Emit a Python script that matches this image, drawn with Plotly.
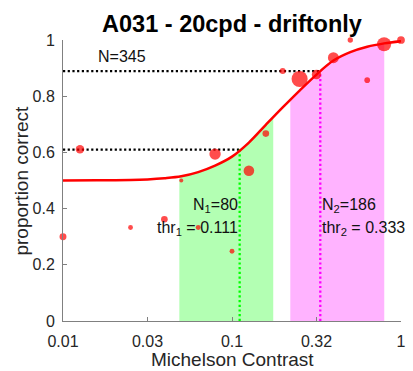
import plotly.graph_objects as go
import numpy as np

# ---- data ----
contrast = [0.01, 0.0126, 0.0251, 0.0398, 0.0501, 0.0631, 0.0794, 0.1, 0.1259, 0.1585,
            0.1995, 0.2512, 0.3162, 0.3981, 0.5012, 0.631, 0.7943, 1.0]
prop_correct = [0.30, 0.611, 0.333, 0.362, 0.50, 0.333, 0.594, 0.248, 0.535, 0.667,
                0.89, 0.861, 0.877, 0.937, 1.0, 0.857, 0.985, 1.0]
n_trials = [12, 18, 6, 11, 4, 6, 32, 6, 28, 11, 9, 65, 22, 30, 7, 8, 50, 15]

fit_x = [0.01, 0.0158, 0.0251, 0.0316, 0.0398, 0.0501, 0.0631, 0.0794, 0.1, 0.1259,
         0.1585, 0.1995, 0.2512, 0.3162, 0.3981, 0.5012, 0.631, 0.7943, 1.0]
fit_y = [0.500, 0.501, 0.502, 0.504, 0.508, 0.515, 0.530, 0.553, 0.585, 0.635,
         0.698, 0.760, 0.820, 0.877, 0.927, 0.957, 0.976, 0.988, 0.996]

band1_x = [0.0488, 0.0501, 0.0631, 0.0794, 0.1, 0.1259, 0.1585, 0.1754]
band1_y = [0.514, 0.515, 0.530, 0.553, 0.585, 0.635, 0.698, 0.725]
band2_x = [0.2213, 0.2512, 0.3162, 0.3981, 0.5012, 0.631, 0.7943, 0.796]
band2_y = [0.787, 0.820, 0.877, 0.927, 0.957, 0.976, 0.988, 0.988]

thr1, thr1_p = 0.111, 0.61
thr2, thr2_p = 0.333, 0.889
N_total, N1, N2 = 345, 80, 186

tick_vals = [0.01, 0.0316, 0.1, 0.316, 1.0]
tick_text = ["0.01", "0.03", "0.1", "0.32", "1"]

FONT = "Liberation Sans, Arial, sans-serif"
fig = go.Figure()

fig.add_trace(go.Scatter(x=band1_x, y=band1_y, mode="lines", fill="tozeroy",
                         line=dict(width=0, shape="spline"), fillcolor="#b3ffb3",
                         hoverinfo="skip", showlegend=False))
fig.add_trace(go.Scatter(x=band2_x, y=band2_y, mode="lines", fill="tozeroy",
                         line=dict(width=0, shape="spline"), fillcolor="#ffb3ff",
                         hoverinfo="skip", showlegend=False))

dot = "2.2px,2.5px"
fig.add_trace(go.Scatter(x=[0.01, thr1], y=[thr1_p, thr1_p], mode="lines",
                         line=dict(color="black", width=2.3, dash=dot), showlegend=False))
fig.add_trace(go.Scatter(x=[0.01, thr2], y=[thr2_p, thr2_p], mode="lines",
                         line=dict(color="black", width=2.3, dash=dot), showlegend=False))
fig.add_trace(go.Scatter(x=[thr1, thr1], y=[0, thr1_p], mode="lines",
                         line=dict(color="#00ff00", width=2.3, dash=dot), showlegend=False))
fig.add_trace(go.Scatter(x=[thr2, thr2], y=[0, thr2_p], mode="lines",
                         line=dict(color="#ff00ff", width=2.3, dash=dot), showlegend=False))

fig.add_trace(go.Scatter(x=fit_x, y=fit_y, mode="lines",
                         line=dict(color="#ff0000", width=2.5, shape="spline", smoothing=1),
                         showlegend=False))

fig.add_trace(go.Scatter(x=contrast, y=prop_correct, mode="markers",
                         marker=dict(color="#ff0000", size=[2 * np.sqrt(v) for v in n_trials],
                                     line=dict(width=0)),
                         cliponaxis=False, showlegend=False))

ann_font = dict(family=FONT, size=16, color="#111111")
anns = [
    dict(x=np.log10(0.0156), y=0.941, text=f"N={N_total}", xanchor="left", yanchor="middle"),
    dict(x=np.log10(thr1), y=0.41, text=f"N<sub>1</sub>={N1}", xanchor="right", yanchor="middle"),
    dict(x=np.log10(thr1), y=0.33, text=f"thr<sub>1</sub> = {thr1:.3f}", xanchor="right", yanchor="middle"),
    dict(x=np.log10(thr2), y=0.41, text=f"N<sub>2</sub>={N2}", xanchor="left", yanchor="middle"),
    dict(x=np.log10(thr2), y=0.33, text=f"thr<sub>2</sub> = {thr2:.3f}", xanchor="left", yanchor="middle"),
]
for a in anns:
    a.update(xref="x", yref="y", showarrow=False, font=ann_font)

# axis titles placed as paper annotations (fixed margins)
anns.append(dict(xref="paper", yref="paper", x=0.5, y=-(360 - 321) / 281.5,
                 text="Michelson Contrast", showarrow=False, xanchor="center", yanchor="middle",
                 font=dict(family=FONT, size=19, color="#262626")))
anns.append(dict(xref="paper", yref="paper", x=-(63 - 21) / 338.5, y=0.5,
                 text="proportion correct", showarrow=False, xanchor="center", yanchor="middle",
                 textangle=-90, font=dict(family=FONT, size=19, color="#262626")))
fig.update_layout(annotations=anns)

axis_common = dict(showline=True, linecolor="#808080", linewidth=1, ticks="inside",
                   ticklen=4, tickcolor="#808080", showgrid=False, zeroline=False,
                   automargin=False,
                   tickfont=dict(family=FONT, size=16, color="#262626"))
fig.update_xaxes(type="log", range=[-2, 0], tickvals=tick_vals, ticktext=tick_text,
                 ticklabelstandoff=6, **axis_common)
fig.update_yaxes(range=[0, 1], tickvals=[0, 0.2, 0.4, 0.6, 0.8, 1],
                 ticktext=["0", "0.2", "0.4", "0.6", "0.8", "1"],
                 ticklabelstandoff=4, **axis_common)

fig.update_layout(
    width=413, height=371,
    margin=dict(l=63, r=12, t=40, b=50, autoexpand=False),
    paper_bgcolor="white", plot_bgcolor="white",
    title=dict(text="<b>A031 - 20cpd - driftonly</b>", x=0.5, xref="paper",
               y=1 - 24 / 371, yref="container", yanchor="middle",
               font=dict(family=FONT, size=23.5, color="black")),
    showlegend=False,
)

fig.write_html("out.html")
